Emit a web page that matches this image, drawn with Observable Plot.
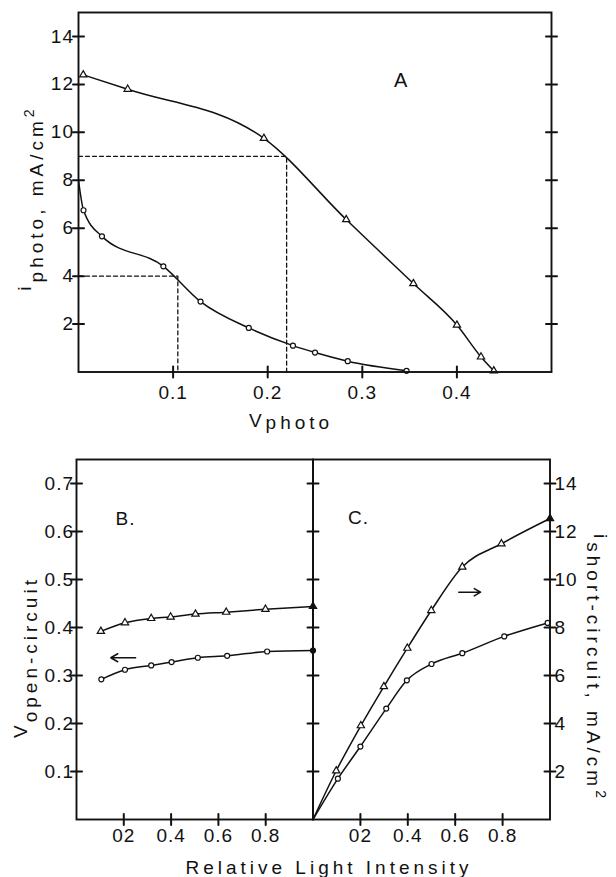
<!DOCTYPE html>
<html>
<head>
<meta charset="utf-8">
<script src="https://cdn.jsdelivr.net/npm/d3@7"></script>
<script src="https://cdn.jsdelivr.net/npm/@observablehq/plot@0.6"></script>
<style>
  body { margin: 0; background: #fff; }
  #wrap { position: relative; width: 616px; height: 877px; overflow: hidden; background: #fff; }
  #wrap > svg { position: absolute; left: 0; }
  #wrap svg text { letter-spacing: 1px; }
</style>
</head>
<body>
<div id="wrap"></div>
<script>
// ---------- Panel A: i_photo vs V_photo ----------
const aTriV = [0.005, 0.052, 0.196, 0.283, 0.354, 0.400, 0.4255, 0.439];
const aTriI = [12.4, 11.8, 9.75, 6.36, 3.69, 1.96, 0.63, 0.05];
const aCirV = [0, 0.0053, 0.0248, 0.0897, 0.129, 0.180, 0.2267, 0.250, 0.2846, 0.3468];
const aCirI = [8.0, 6.75, 5.66, 4.41, 2.94, 1.84, 1.10, 0.81, 0.45, 0.05];
const aGuideHiV = [0, 0.22, 0.22];
const aGuideHiI = [9, 9, 0];
const aGuideLoV = [0, 0.105, 0.105];
const aGuideLoI = [4, 4, 0];
const aYTicks = [2, 4, 6, 8, 10, 12, 14];
const aXTicks = [0.1, 0.2, 0.3, 0.4];
const aXTickLabels = ["0.1", "0.2", "0.3", "0.4"];
const aLabel = [{x: 0.341, y: 12.15, t: "A"}];

// ---------- Panel B: V open-circuit vs relative light intensity ----------
const bTriX = [0.103, 0.205, 0.316, 0.398, 0.503, 0.633, 0.799, 1.0];
const bTriV = [0.392, 0.410, 0.419, 0.422, 0.428, 0.432, 0.438, 0.444];
const bCirX = [0.105, 0.205, 0.316, 0.402, 0.513, 0.637, 0.806, 1.0];
const bCirV = [0.292, 0.312, 0.321, 0.328, 0.337, 0.341, 0.350, 0.352];
const bYTicks = [0.1, 0.2, 0.3, 0.4, 0.5, 0.6, 0.7];
const bYTickLabels = ["0.1", "0.2", "0.3", "0.4", "0.5", "0.6", "0.7"];
const bArrow = [{x1: 0.25, x2: 0.145, y: 0.337}];
const bLabel = [{x: 0.207, y: 0.627, t: "B."}];

// ---------- Panel C: i short-circuit vs relative light intensity ----------
const cTriX = [0, 0.098, 0.202, 0.299, 0.398, 0.499, 0.630, 0.795, 1.0];
const cTriI = [0, 2.03, 3.91, 5.54, 7.14, 8.71, 10.52, 11.49, 12.54];
const cCirX = [0, 0.105, 0.200, 0.309, 0.396, 0.500, 0.630, 0.807, 0.99];
const cCirI = [0, 1.70, 3.04, 4.62, 5.80, 6.48, 6.93, 7.63, 8.19];
const cYTicks = [2, 4, 6, 8, 10, 12, 14];
const cArrow = [{x1: 0.615, x2: 0.707, y: 9.47}];
const cLabel = [{x: 0.192, y: 12.58, t: "C."}];

const lightTicks = [0.2, 0.4, 0.6, 0.8];
const lightTickLabels = ["02", "0.4", "0.6", "0.8"];

// ---------- helpers ----------
const FONT = "'Liberation Sans', Arial, sans-serif";
const baseStyle = {fontFamily: FONT, fontSize: "19px", color: "#111", background: "none", overflow: "visible"};
const rows = (xs, ys) => xs.map((x, i) => ({x, y: ys[i]}));
const fmt = (ticks, labels) => d => labels[ticks.indexOf(d)];
const LW = 1.5;
const FRAME_W = 1.9;
const TICK = 11; // full length of crossing ticks
const segment = {draw(ctx, l) { ctx.moveTo(0, 0); ctx.lineTo(0, -l); }};

// crossing tick marks centred on a vertical frame edge at x = edge (data units)
function crossY(edge, ticks) {
  return Plot.vector(ticks, {x: () => edge, y: d => d, length: TICK, rotate: 90, anchor: "middle",
    shape: segment, stroke: "#111", strokeWidth: 2});
}
// crossing tick marks centred on the bottom frame edge at y = edge (data units)
function crossX(edge, ticks) {
  return Plot.vector(ticks, {x: d => d, y: () => edge, length: TICK, rotate: 0, anchor: "middle",
    shape: segment, stroke: "#111", strokeWidth: 2});
}
function series(data, symbol, r) {
  return [
    Plot.line(data, {x: "x", y: "y", curve: "monotone-x", strokeWidth: LW}),
    Plot.dot(data, {x: "x", y: "y", symbol, r, stroke: "#111", strokeWidth: 1.2,
      fill: d => (d.x === 1 ? "#111" : "white"), filter: d => d.x > 0})
  ];
}
function addLabel(svg, {x, y, rotate = 0, parts}) {
  const t = d3.select(svg).append("text")
    .attr("transform", `translate(${x},${y}) rotate(${rotate})`)
    .attr("text-anchor", "middle")
    .attr("fill", "#111")
    .attr("style", `font-family:${FONT};font-size:19px;letter-spacing:4px;`);
  for (const p of parts) {
    const s = t.append("tspan").text(p.t);
    if (p.dy) s.attr("dy", p.dy);
    if (p.size) s.attr("font-size", p.size).attr("style", `font-size:${p.size}px`);
  }
}

const wrap = document.getElementById("wrap");

// ---------- Panel A ----------
const plotA = Plot.plot({
  width: 616, height: 450,
  marginTop: 12, marginBottom: 78.5, marginLeft: 78, marginRight: 65,
  x: {domain: [0, 0.5], axis: null},
  y: {domain: [0, 15], axis: null},
  style: baseStyle,
  marks: [
    Plot.line(rows(aGuideHiV, aGuideHiI), {x: "x", y: "y", strokeDasharray: "4,3", strokeWidth: 1.3}),
    Plot.line(rows(aGuideLoV, aGuideLoI), {x: "x", y: "y", strokeDasharray: "4,3", strokeWidth: 1.3}),
    ...series(rows(aTriV, aTriI), "triangle", 2.7),
    ...series(rows(aCirV, aCirI), "circle", 2.5),
    Plot.frame({strokeWidth: FRAME_W}),
    crossY(0, aYTicks),
    crossY(0.5, aYTicks),
    crossX(0, aXTicks),
    Plot.axisY({anchor: "left", ticks: aYTicks, tickSize: 0, tickPadding: 4.5, label: null, tickFormat: d => String(d)}),
    Plot.axisX({anchor: "bottom", ticks: aXTicks, tickSize: 0, tickPadding: 13, label: null, tickFormat: fmt(aXTicks, aXTickLabels)}),
    Plot.text(aLabel, {x: "x", y: "y", text: "t", fontSize: 20})
  ]
});
plotA.style.top = "0px";
wrap.appendChild(plotA);
addLabel(plotA, {x: 291, y: 427, parts: [{t: "V"}, {t: "photo", dy: 2}]});
addLabel(plotA, {x: 31, y: 198, rotate: -90, parts: [{t: "i"}, {t: "photo, mA/cm", dy: 12}, {t: "2", dy: -9, size: 14}]});

// ---------- Panel B ----------
const plotB = Plot.plot({
  width: 616, height: 437,
  marginTop: 19, marginBottom: 58, marginLeft: 76, marginRight: 303.5,
  x: {domain: [0, 1], axis: null},
  y: {domain: [0, 0.75], axis: null},
  style: baseStyle,
  marks: [
    ...series(rows(bTriX, bTriV), "triangle", 2.7),
    ...series(rows(bCirX, bCirV), "circle", 2.5),
    Plot.arrow(bArrow, {x1: "x1", x2: "x2", y1: "y", y2: "y", headLength: 8, strokeWidth: LW}),
    Plot.frame({strokeWidth: FRAME_W}),
    crossY(0, bYTicks),
    crossY(1, bYTicks),
    crossX(0, lightTicks),
    Plot.axisY({anchor: "left", ticks: bYTicks, tickSize: 0, tickPadding: 2.5, label: null, tickFormat: fmt(bYTicks, bYTickLabels)}),
    Plot.axisX({anchor: "bottom", ticks: lightTicks, tickSize: 0, tickPadding: 9, label: null, tickFormat: fmt(lightTicks, lightTickLabels)}),
    Plot.text(bLabel, {x: "x", y: "y", text: "t", fontSize: 19})
  ]
});
plotB.style.top = "440px";
wrap.appendChild(plotB);
addLabel(plotB, {x: 27, y: 217, rotate: -90, parts: [{t: "V"}, {t: "open-circuit", dy: 10}]});
addLabel(plotB, {x: 329, y: 433.5, parts: [{t: "Relative Light Intensity"}]});

// ---------- Panel C ----------
const plotC = Plot.plot({
  width: 616, height: 437,
  marginTop: 19, marginBottom: 58, marginLeft: 312.5, marginRight: 66.5,
  x: {domain: [0, 1], axis: null},
  y: {domain: [0, 15], axis: null},
  style: baseStyle,
  marks: [
    ...series(rows(cTriX, cTriI), "triangle", 2.7),
    ...series(rows(cCirX, cCirI), "circle", 2.5),
    Plot.arrow(cArrow, {x1: "x1", x2: "x2", y1: "y", y2: "y", headLength: 8, strokeWidth: LW}),
    Plot.frame({strokeWidth: FRAME_W}),
    crossY(1, cYTicks),
    crossX(0, lightTicks),
    Plot.axisY({anchor: "right", ticks: cYTicks, tickSize: 0, tickPadding: 4.5, label: null, tickFormat: d => String(d)}),
    Plot.axisX({anchor: "bottom", ticks: lightTicks, tickSize: 0, tickPadding: 9, label: null, tickFormat: fmt(lightTicks, lightTickLabels)}),
    Plot.text(cLabel, {x: "x", y: "y", text: "t", fontSize: 19})
  ]
});
plotC.style.top = "440px";
wrap.appendChild(plotC);
addLabel(plotC, {x: 587, y: 228, rotate: 90, parts: [{t: "i", dy: -7}, {t: "short-circuit, mA/cm", dy: 7}, {t: "2", dy: -9, size: 14}]});
</script>
</body>
</html>
